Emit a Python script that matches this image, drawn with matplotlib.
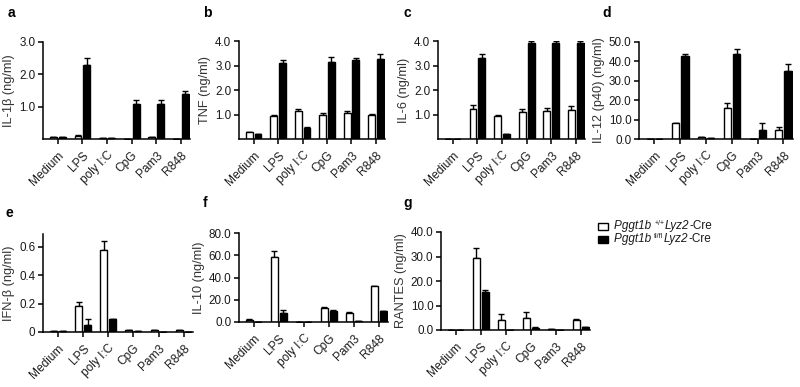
"""
Cytokine panels a-g: Pggt1b +/+ vs fl/fl Lyz2-Cre macrophages,
bar charts with upward SEM bars, GraphPad-style layout.
"""
import numpy as np
import matplotlib
matplotlib.use("Agg")
import matplotlib.pyplot as plt
from matplotlib.patches import Rectangle

plt.rcParams["font.family"] = ["Liberation Sans", "DejaVu Sans"]

# ---- data ------------------------------------------------------------------
stimuli = ["Medium", "LPS", "poly I:C", "CpG", "Pam3", "R848"]

il1b_wt = [0.05, 0.08, 0.03, 0.01, 0.05, 0.01]
il1b_wt_err = [0.02, 0.03, 0.01, 0.0, 0.02, 0.0]
il1b_ko = [0.05, 2.30, 0.02, 1.08, 1.08, 1.40]
il1b_ko_err = [0.01, 0.22, 0.0, 0.12, 0.12, 0.10]

tnf_wt = [0.27, 0.93, 1.13, 1.00, 1.05, 0.97]
tnf_wt_err = [0.03, 0.06, 0.10, 0.08, 0.08, 0.05]
tnf_ko = [0.20, 3.12, 0.45, 3.15, 3.22, 3.25]
tnf_ko_err = [0.02, 0.12, 0.02, 0.20, 0.10, 0.22]

il6_wt = [0.0, 1.22, 0.92, 1.10, 1.15, 1.18]
il6_wt_err = [0.0, 0.15, 0.07, 0.12, 0.10, 0.15]
il6_ko = [0.0, 3.30, 0.22, 3.90, 3.90, 3.90]
il6_ko_err = [0.0, 0.17, 0.0, 0.10, 0.10, 0.08]

il12_wt = [0.0, 8.0, 0.8, 16.0, 0.0, 4.5]
il12_wt_err = [0.0, 0.5, 0.0, 2.5, 0.0, 1.5]
il12_ko = [0.0, 43.0, 0.5, 44.0, 4.5, 35.0]
il12_ko_err = [0.0, 1.0, 0.0, 2.5, 4.0, 3.5]

ifnb_wt = [0.01, 0.18, 0.58, 0.015, 0.015, 0.012]
ifnb_wt_err = [0.0, 0.03, 0.06, 0.0, 0.0, 0.0]
ifnb_ko = [0.01, 0.05, 0.09, 0.008, 0.0, 0.0]
ifnb_ko_err = [0.0, 0.045, 0.005, 0.0, 0.0, 0.0]

il10_wt = [2.0, 58.0, 0.0, 13.0, 8.0, 32.0]
il10_wt_err = [0.3, 6.0, 0.0, 0.5, 1.0, 0.5]
il10_ko = [0.3, 8.0, 0.0, 10.0, 1.0, 9.5]
il10_ko_err = [0.0, 3.0, 0.0, 1.0, 0.0, 0.8]

rantes_wt = [0.0, 29.5, 4.0, 4.8, 0.3, 4.0]
rantes_wt_err = [0.0, 4.0, 2.5, 2.5, 0.0, 0.3]
rantes_ko = [0.0, 15.5, 0.0, 1.0, 0.0, 1.2]
rantes_ko_err = [0.0, 1.0, 0.0, 0.2, 0.0, 0.2]

# ---- panel layout (pixel boxes: left, right, bottom, top) ------------------
W, H = 800, 387
panels = [
    ("a", "IL-1β (ng/ml)", il1b_wt, il1b_wt_err, il1b_ko, il1b_ko_err,
     (43, 190, 139, 42), 3.0, [1.0, 2.0, 3.0], "{:.1f}"),
    ("b", "TNF (ng/ml)", tnf_wt, tnf_wt_err, tnf_ko, tnf_ko_err,
     (239, 385, 139, 41), 4.0, [1.0, 2.0, 3.0, 4.0], "{:.1f}"),
    ("c", "IL-6 (ng/ml)", il6_wt, il6_wt_err, il6_ko, il6_ko_err,
     (438, 585, 139, 41), 4.0, [1.0, 2.0, 3.0, 4.0], "{:.1f}"),
    ("d", "IL-12 (p40) (ng/ml)", il12_wt, il12_wt_err, il12_ko, il12_ko_err,
     (639, 793, 139, 42), 50.0, [0, 10, 20, 30, 40, 50], "{:.1f}"),
    ("e", "IFN-β (ng/ml)", ifnb_wt, ifnb_wt_err, ifnb_ko, ifnb_ko_err,
     (43, 193, 332, 234), 0.69, [0, 0.2, 0.4, 0.6], "{:g}"),
    ("f", "IL-10 (ng/ml)", il10_wt, il10_wt_err, il10_ko, il10_ko_err,
     (239, 388, 322, 233), 80.0, [0, 20, 40, 60, 80], "{:.1f}"),
    ("g", "RANTES (ng/ml)", rantes_wt, rantes_wt_err, rantes_ko, rantes_ko_err,
     (441, 590, 330, 232), 40.0, [0, 10, 20, 30, 40], "{:.1f}"),
]
label_pos = {"a": (8, 13), "b": (203, 13), "c": (403, 13), "d": (602, 13),
             "e": (5, 213), "f": (203, 203), "g": (403, 203)}

TXT = "#1a1a1a"
BW, OFF = 0.28, 0.18
x = np.arange(len(stimuli))

fig = plt.figure(figsize=(W / 100, H / 100), dpi=100)

for (tag, ylab, wt, wt_e, ko, ko_e, box, ytop, yt, fmt) in panels:
    l, r, b, t = box
    ax = fig.add_axes([l / W, 1 - b / H, (r - l) / W, (b - t) / H])
    ax.bar(x - OFF, wt, BW, color="white", edgecolor="black", lw=1.0, zorder=2)
    ax.bar(x + OFF, ko, BW, color="black", edgecolor="black", lw=1.0, zorder=2)
    ax.errorbar(x - OFF, wt, yerr=[np.zeros(len(wt)), wt_e], fmt="none",
                ecolor="black", elinewidth=1.0, capsize=2.2, capthick=1.0,
                zorder=1)
    ax.errorbar(x + OFF, ko, yerr=[np.zeros(len(ko)), ko_e], fmt="none",
                ecolor="black", elinewidth=1.0, capsize=2.2, capthick=1.0,
                zorder=1)
    ax.set_xlim(-0.6, 5.37)
    ax.set_ylim(0, ytop)
    ax.set_yticks(yt)
    ax.set_yticklabels([fmt.format(v) for v in yt], fontsize=8.4, color=TXT)
    ax.set_xticks(x)
    ax.set_xticklabels(stimuli, rotation=45, ha="right",
                       rotation_mode="anchor", fontsize=8.6, color=TXT)
    ax.set_ylabel(ylab, fontsize=9.2, labelpad=3, color="#333333")
    for s in ("top", "right"):
        ax.spines[s].set_visible(False)
    for s in ("left", "bottom"):
        ax.spines[s].set_linewidth(1.1)
    ax.tick_params(width=1.1, length=3.5, pad=2)
    ax.tick_params(axis="x", pad=4)
    lx, ly = label_pos[tag]
    fig.text(lx / W, 1 - ly / H, tag, fontsize=10, fontweight="bold",
             va="center", ha="left")

# legend drawn by hand: italic gene names with tiny superscript genotypes
renderer = fig.canvas.get_renderer()
legend_rows = [("white", "+/+", 226), ("black", "fl/fl", 239)]
for fc, sup, yc in legend_rows:
    fig.add_artist(Rectangle((598 / W, 1 - (yc + 3.5) / H), 10 / W, 7 / H,
                             facecolor=fc, edgecolor="black", lw=1.0,
                             transform=fig.transFigure))
    xpx = 614
    pieces = [("Pggt1b ", "italic", 8.5, 0), (sup, "normal", 5.0, -2.5),
              ("Lyz2", "italic", 8.5, 0), ("-Cre", "normal", 8.5, 0)]
    for s, style, fs, dy in pieces:
        t = fig.text(xpx / W, 1 - (yc + dy) / H, s, fontsize=fs,
                     fontstyle=style, va="center", ha="left", color=TXT)
        xpx += t.get_window_extent(renderer).width + (0.5 if fs < 8 else 0)

fig.savefig("out.png", dpi=100)
